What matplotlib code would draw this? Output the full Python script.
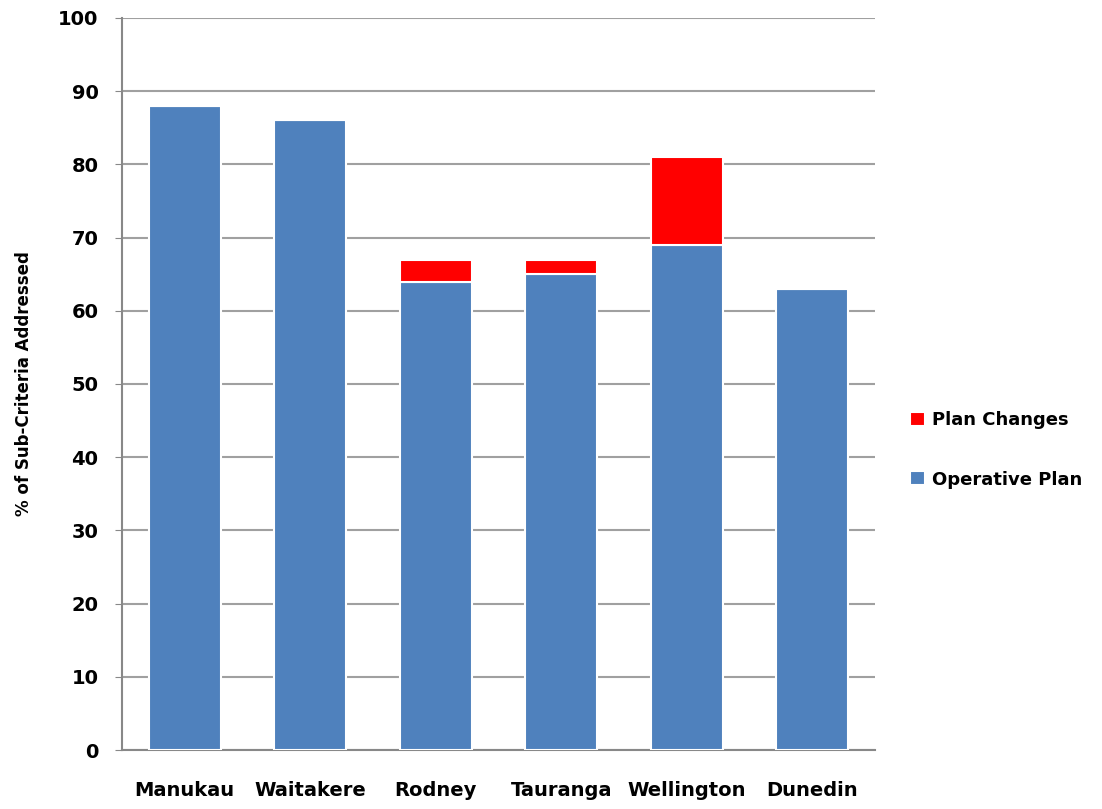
import numpy as np
import matplotlib
matplotlib.use("Agg")
import matplotlib.pyplot as plt

# data
cities = ["Manukau", "Waitakere", "Rodney", "Tauranga", "Wellington", "Dunedin"]
operative_plan = [88, 86, 64, 65, 69, 63]
plan_changes = [0, 0, 3, 2, 12, 0]
y_ticks = list(range(0, 101, 10))

plt.rcParams['font.family'] = ['DejaVu Sans']
plt.rcParams['font.weight'] = 'bold'

fig = plt.figure(figsize=(11.02, 8.09), dpi=100)
ax = fig.add_axes([0.1107, 0.0729, 0.6833, 0.9049])

x = np.arange(len(cities))
w = 0.57
b1 = ax.bar(x, operative_plan, w, color='#4F81BD', edgecolor='white', linewidth=1.5,
            label='Operative Plan', zorder=3)
b2 = ax.bar(x, plan_changes, w, bottom=operative_plan, color='#FF0000', edgecolor='white',
            linewidth=1.5, label='Plan Changes', zorder=3)

ax.set_xlim(-0.5, len(cities) - 0.5)
ax.set_ylim(0, 100)
ax.set_yticks(y_ticks)
ax.set_xticks(x)
ax.set_xticklabels(cities, fontsize=14, fontweight='bold')
ax.tick_params(axis='x', length=0, pad=22)
ax.tick_params(axis='y', labelsize=14, length=5, color='#888888', pad=12)
for lab in ax.get_yticklabels():
    lab.set_fontweight('bold')

ax.yaxis.grid(True, color='#A0A0A0', linewidth=1.5, zorder=0)
ax.set_axisbelow(True)
for s in ['top', 'right']:
    ax.spines[s].set_visible(False)
ax.spines['left'].set_color('#888888')
ax.spines['bottom'].set_color('#888888')
ax.spines['left'].set_linewidth(1.5)
ax.spines['bottom'].set_linewidth(1.5)

ax.set_ylabel('% of Sub-Criteria Addressed', fontsize=12, fontweight='bold', labelpad=18)

ax.legend([b2, b1], ['Plan Changes', 'Operative Plan'], loc='center left',
          bbox_to_anchor=(1.03, 0.41), frameon=False, fontsize=13, handlelength=0.8,
          handleheight=0.8, handletextpad=0.4, labelspacing=2.3, borderpad=0.2)

fig.savefig('out.png', dpi=100)
